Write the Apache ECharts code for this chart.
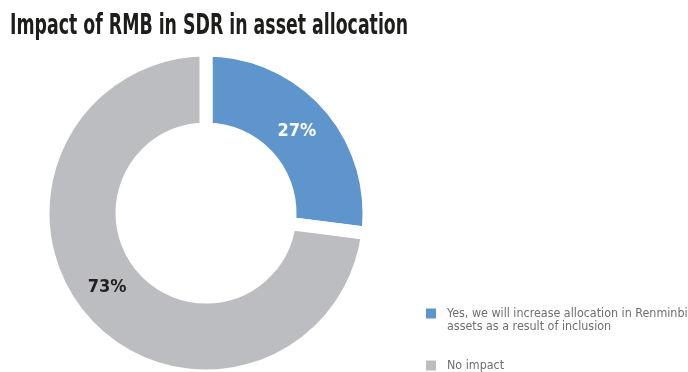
<!DOCTYPE html>
<html>
<head>
<meta charset="utf-8">
<script src="https://cdn.jsdelivr.net/npm/echarts@6/dist/echarts.min.js"></script>
<style>
  html, body { margin: 0; padding: 0; background: #fff; }
  #chart { width: 688px; height: 372px; }
</style>
</head>
<body>
<div id="chart"></div>
<script>
const TITLE = 'Impact of RMB in SDR in asset allocation';
const categories = [
  'Yes, we will increase allocation in Renminbi\nassets as a result of inclusion',
  'No impact'
];
const values = [27, 73];
const sliceColors = ['#5f95cd', '#bcbdc0'];
const labelColors = ['#ffffff', '#231f20'];

const FONT = '"DejaVu Sans Condensed", sans-serif';

const chart = echarts.init(document.getElementById('chart'));

const pieData = categories.map((name, i) => ({
  name: name,
  value: values[i],
  itemStyle: { color: sliceColors[i] },
  label: {
    color: labelColors[i],
    offset: i === 1 ? [-4, -9] : [-4, 2]
  }
}));

const legendText = { fontFamily: FONT, fontSize: 12.4, lineHeight: 13, color: '#6d6e71', padding: [0, 0, 0, 6] };

const option = {
  animation: false,
  // title drawn as text, squeezed to look like the condensed heavy face
  graphic: [{
    type: 'text',
    x: 10,
    y: 12,
    scaleX: 0.665,
    style: {
      text: TITLE,
      font: 'bold 29px ' + FONT,
      fill: '#1d1d1b',
      verticalAlign: 'top',
      align: 'left'
    }
  }],
  legend: [
    {
      orient: 'vertical',
      left: 426,
      top: 294,
      padding: 0,
      itemWidth: 10,
      itemHeight: 10,
      icon: 'rect',
      itemStyle: { borderWidth: 0 },
      selectedMode: false,
      // leading blank line keeps the icon level with the first text line
      formatter: name => ' \n' + name,
      data: [categories[0]],
      textStyle: legendText
    },
    {
      orient: 'vertical',
      left: 426,
      top: 359,
      padding: 0,
      itemWidth: 10,
      itemHeight: 10,
      icon: 'rect',
      itemStyle: { borderWidth: 0 },
      selectedMode: false,
      data: [categories[1]],
      textStyle: legendText
    }
  ],
  series: [{
    type: 'pie',
    center: [206, 213],
    radius: [84, 163],
    startAngle: 90,
    clockwise: true,
    silent: true,
    itemStyle: { borderColor: '#ffffff', borderWidth: 13 },
    label: {
      show: true,
      position: 'inside',
      formatter: '{c}%',
      fontFamily: FONT,
      fontSize: 18,
      fontWeight: 'bold'
    },
    labelLine: { show: false },
    data: pieData
  }]
};

chart.setOption(option);
</script>
</body>
</html>
